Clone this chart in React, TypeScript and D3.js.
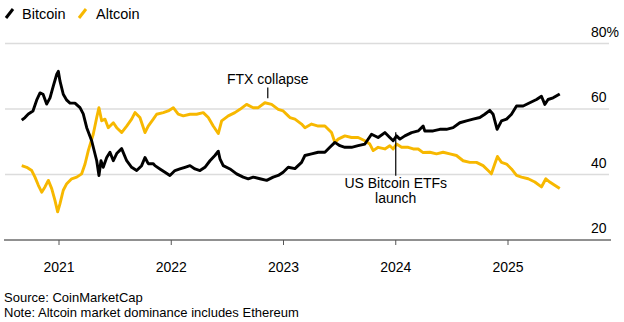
import React from "react";
import * as d3 from "d3";

// ---- Data (decimal year, market dominance %) ----
const btcYears = [
  2020.668, 2020.697, 2020.727, 2020.768, 2020.801, 2020.831, 2020.858, 2020.89, 2020.92, 2020.949,
  2020.98, 2020.994, 2021.009, 2021.038, 2021.069, 2021.098, 2021.142, 2021.187, 2021.216, 2021.247,
  2021.291, 2021.336, 2021.356, 2021.374, 2021.394, 2021.425, 2021.454, 2021.484, 2021.514, 2021.558,
  2021.603, 2021.647, 2021.692, 2021.736, 2021.766, 2021.795, 2021.84, 2021.855, 2021.899, 2021.944,
  2021.988, 2022.033, 2022.077, 2022.122, 2022.167, 2022.211, 2022.256, 2022.3, 2022.345, 2022.389,
  2022.419, 2022.434, 2022.463, 2022.523, 2022.582, 2022.641, 2022.686, 2022.73, 2022.79, 2022.85,
  2022.908, 2022.953, 2022.997, 2023.042, 2023.102, 2023.161, 2023.191, 2023.25, 2023.309, 2023.369,
  2023.413, 2023.458, 2023.502, 2023.547, 2023.606, 2023.665, 2023.725, 2023.784, 2023.843, 2023.903,
  2023.947, 2023.977, 2024.007, 2024.037, 2024.081, 2024.141, 2024.2, 2024.244, 2024.259, 2024.333,
  2024.393, 2024.452, 2024.511, 2024.571, 2024.63, 2024.689, 2024.749, 2024.793, 2024.838, 2024.867,
  2024.903, 2024.942, 2024.987, 2025.031, 2025.076, 2025.135, 2025.194, 2025.254, 2025.298, 2025.328,
  2025.357, 2025.402, 2025.461,
];
const btcShare = [
  56.6, 57.4, 58.5, 59.4, 62.7, 64.9, 64.5, 61.5, 63.4, 67.0,
  70.6, 71.5, 68.5, 64.5, 62.7, 61.8, 61.8, 60.4, 58.5, 54.3,
  50.3, 44.2, 39.7, 44.2, 42.2, 45.2, 46.8, 44.2, 46.4, 47.9,
  44.2, 42.2, 41.2, 42.7, 45.2, 43.3, 43.3, 42.7, 41.7, 40.7,
  39.7, 41.2, 41.7, 42.2, 42.7, 41.7, 41.2, 42.2, 44.2, 45.8,
  47.1, 44.8, 42.7, 41.7, 40.2, 39.2, 38.7, 39.2, 38.7, 38.2,
  39.2, 39.7, 40.7, 42.2, 41.8, 43.7, 45.8, 46.3, 46.8, 46.8,
  48.3, 49.8, 48.8, 48.3, 48.3, 48.8, 49.3, 52.3, 51.3, 52.8,
  51.3, 50.3, 51.8, 50.8, 51.8, 52.8, 53.3, 54.8, 53.3, 53.3,
  53.8, 53.8, 54.3, 55.8, 56.4, 56.9, 57.4, 58.4, 59.6, 58.4,
  53.8, 56.4, 56.9, 58.4, 60.9, 60.9, 61.9, 62.9, 63.9, 61.4,
  62.9, 63.4, 64.6,
];

const altYears = [
  2020.668, 2020.712, 2020.757, 2020.786, 2020.816, 2020.846, 2020.875, 2020.905, 2020.935, 2020.964,
  2020.988, 2021.009, 2021.038, 2021.069, 2021.113, 2021.158, 2021.202, 2021.232, 2021.261, 2021.305,
  2021.336, 2021.356, 2021.38, 2021.41, 2021.439, 2021.484, 2021.514, 2021.558, 2021.603, 2021.647,
  2021.677, 2021.721, 2021.766, 2021.795, 2021.84, 2021.87, 2021.929, 2021.973, 2022.018, 2022.062,
  2022.107, 2022.167, 2022.226, 2022.285, 2022.33, 2022.374, 2022.419, 2022.449, 2022.508, 2022.567,
  2022.612, 2022.671, 2022.73, 2022.775, 2022.834, 2022.894, 2022.953, 2022.997, 2023.042, 2023.057,
  2023.102, 2023.161, 2023.191, 2023.25, 2023.309, 2023.369, 2023.428, 2023.458, 2023.487, 2023.547,
  2023.606, 2023.665, 2023.725, 2023.769, 2023.799, 2023.843, 2023.903, 2023.947, 2023.977, 2024.007,
  2024.052, 2024.111, 2024.156, 2024.2, 2024.244, 2024.304, 2024.363, 2024.422, 2024.482, 2024.541,
  2024.6, 2024.66, 2024.719, 2024.778, 2024.823, 2024.852, 2024.882, 2024.906, 2024.942, 2024.987,
  2025.031, 2025.076, 2025.12, 2025.18, 2025.239, 2025.298, 2025.337, 2025.372, 2025.416, 2025.461,
];
const altShare = [
  42.7, 42.2, 41.2, 39.2, 36.7, 34.6, 36.2, 38.2, 35.7, 32.1,
  28.6, 31.1, 35.2, 37.2, 38.7, 39.2, 40.2, 43.2, 47.3, 52.3,
  57.4, 60.4, 56.4, 56.9, 54.3, 55.8, 54.3, 52.8, 54.8, 56.9,
  58.9, 57.4, 52.8, 54.8, 56.9, 58.4, 58.9, 59.4, 60.4, 58.4,
  57.9, 58.4, 58.4, 58.9, 57.4, 54.8, 52.5, 56.4, 57.9, 58.9,
  59.9, 61.4, 60.4, 60.4, 61.9, 61.4, 59.9, 59.4, 57.9, 57.4,
  56.9, 55.4, 54.3, 55.4, 54.8, 54.8, 52.8, 49.8, 50.8, 51.8,
  51.3, 51.3, 50.3, 49.3, 47.3, 48.3, 47.8, 48.8, 47.8, 49.3,
  48.3, 48.3, 47.8, 47.8, 46.7, 46.8, 46.3, 46.8, 46.3, 45.8,
  44.2, 43.7, 43.7, 42.7, 41.2, 40.2, 43.2, 45.5, 43.7, 43.2,
  41.7, 39.7, 39.2, 38.7, 37.7, 36.2, 38.7, 37.7, 36.7, 35.7,
];

const yearTicks = [2021, 2022, 2023, 2024, 2025];
const shareTicks = [20, 40, 60, 80];
const seriesNames = ["Bitcoin", "Altcoin"];

const annotations = [
  { label: ["FTX collapse"], year: 2022.86, from: 66.6, to: 63.3, textAt: 67.7, above: true },
  { label: ["US Bitcoin ETFs", "launch"], year: 2024.0, from: 52.9, to: 39.6, textAt: 36.0, above: false },
];

const BTC_COLOR = "#000000";
const ALT_COLOR = "#F7B800";
const FONT = "'Liberation Sans', Arial, Helvetica, sans-serif";

export default function App() {
  const W = 624;
  const H = 322;
  const x = d3.scaleLinear().domain([2021, 2025]).range([59, 508]);
  const y = d3.scaleLinear().domain([20, 80]).range([240, 43.5]);

  const line = d3
    .line<[number, number]>()
    .x((d) => x(d[0]))
    .y((d) => y(d[1]))
    .curve(d3.curveLinear);

  const btc = btcYears.map((t, i) => [t, btcShare[i]] as [number, number]);
  const alt = altYears.map((t, i) => [t, altShare[i]] as [number, number]);

  return (
    <svg
      width={W}
      height={H}
      style={{ position: "absolute", left: 0, top: 0, background: "#fff" }}
      fontFamily={FONT}
    >
      {/* legend */}
      <g>
        <line x1={6} y1={18} x2={13} y2={9} stroke={BTC_COLOR} strokeWidth={3} />
        <text x={22} y={18.5} fontSize={14.5} fill="#000">{seriesNames[0]}</text>
        <line x1={79} y1={18} x2={86} y2={9} stroke={ALT_COLOR} strokeWidth={3} />
        <text x={96} y={18.5} fontSize={14.5} fill="#000">{seriesNames[1]}</text>
      </g>

      {/* gridlines and y labels */}
      {shareTicks.map((v) => (
        <g key={v}>
          {v !== 20 && (
            <line x1={5} x2={609} y1={y(v)} y2={y(v)} stroke="#dcdcdc" strokeWidth={1.5} />
          )}
          <text x={591} y={y(v) - 7} fontSize={14} fill="#000">
            {v === 80 ? "80%" : String(v)}
          </text>
        </g>
      ))}

      {/* x axis */}
      <line x1={4} x2={611} y1={y(20)} y2={y(20)} stroke="#222" strokeWidth={1} />
      {yearTicks.map((t) => (
        <g key={t}>
          <line x1={x(t)} x2={x(t)} y1={y(20)} y2={y(20) + 5} stroke="#555" strokeWidth={1} />
          <text x={x(t)} y={272} fontSize={14} textAnchor="middle" fill="#000">{t}</text>
        </g>
      ))}

      {/* series */}
      <path d={line(alt) || ""} fill="none" stroke={ALT_COLOR} strokeWidth={2.9} strokeLinejoin="round" />
      <path d={line(btc) || ""} fill="none" stroke={BTC_COLOR} strokeWidth={2.9} strokeLinejoin="round" />

      {/* annotations */}
      {annotations.map((a, i) => (
        <g key={i}>
          <line x1={x(a.year)} x2={x(a.year)} y1={y(a.from)} y2={y(a.to)} stroke="#000" strokeWidth={1.2} />
          {a.label.map((l, j) => (
            <text
              key={j}
              x={x(a.year)}
              y={a.above ? y(a.textAt) : y(a.textAt) + j * 15}
              fontSize={14}
              textAnchor="middle"
              fill="#000"
            >
              {l}
            </text>
          ))}
        </g>
      ))}

      {/* footer */}
      <text x={4} y={302} fontSize={13} fill="#000">Source: CoinMarketCap</text>
      <text x={4} y={317} fontSize={13} fill="#000">Note: Altcoin market dominance includes Ethereum</text>
    </svg>
  );
}
